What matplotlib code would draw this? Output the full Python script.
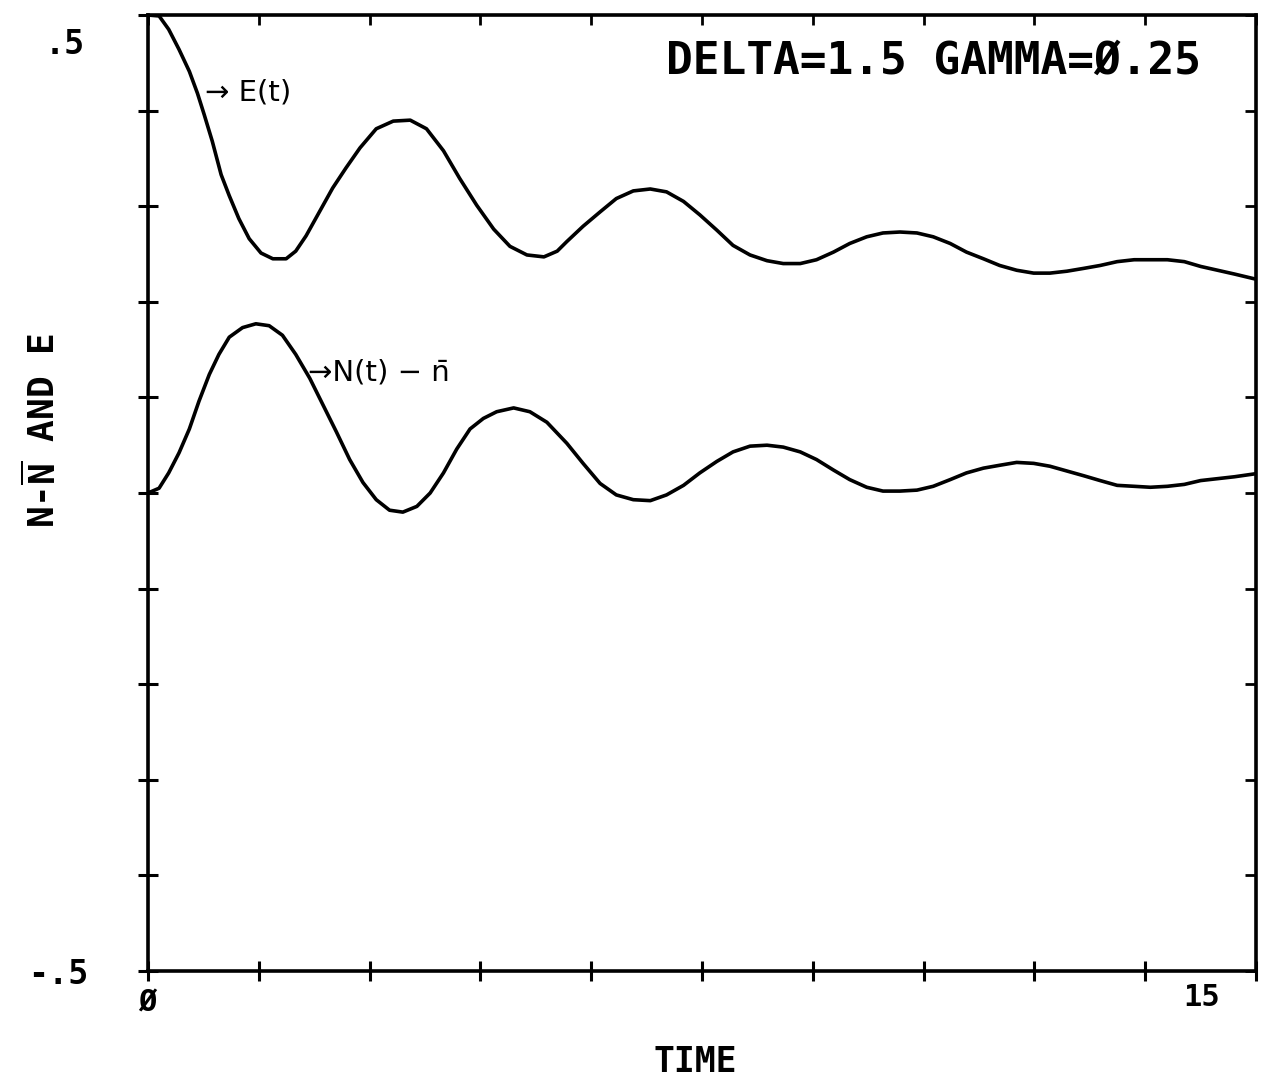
import matplotlib
matplotlib.use("Agg")
import matplotlib.pyplot as plt

# Data
t_E = [0.0, 0.15, 0.28, 0.42, 0.56, 0.67, 0.76, 0.87, 0.99, 1.10, 1.23, 1.37, 1.53,
       1.69, 1.87, 2.00, 2.14, 2.32, 2.50, 2.68, 2.87, 3.09, 3.32, 3.55, 3.77, 4.00,
       4.22, 4.45, 4.68, 4.90, 5.13, 5.36, 5.54, 5.67, 5.89, 6.12, 6.34, 6.57, 6.80,
       7.02, 7.25, 7.47, 7.70, 7.92, 8.15, 8.38, 8.60, 8.83, 9.05, 9.28, 9.50, 9.73,
       9.95, 10.18, 10.41, 10.63, 10.86, 11.08, 11.31, 11.53, 11.76, 11.99, 12.21,
       12.44, 12.67, 12.89, 13.12, 13.35, 13.57, 13.80, 14.03, 14.25, 14.48, 14.71,
       14.98, 15.0]
E_vals = [0.500, 0.499, 0.485, 0.464, 0.441, 0.418, 0.396, 0.368, 0.333, 0.311, 0.287,
          0.266, 0.251, 0.245, 0.245, 0.253, 0.269, 0.294, 0.319, 0.340, 0.361, 0.381,
          0.389, 0.390, 0.381, 0.358, 0.329, 0.301, 0.276, 0.258, 0.249, 0.247, 0.253,
          0.263, 0.279, 0.294, 0.308, 0.316, 0.318, 0.315, 0.305, 0.291, 0.275, 0.259,
          0.249, 0.243, 0.240, 0.240, 0.244, 0.252, 0.261, 0.268, 0.272, 0.273, 0.272,
          0.268, 0.261, 0.252, 0.245, 0.238, 0.233, 0.230, 0.230, 0.232, 0.235, 0.238,
          0.242, 0.244, 0.244, 0.244, 0.242, 0.237, 0.233, 0.229, 0.224, 0.224]

t_N = [0.0, 0.15, 0.28, 0.42, 0.56, 0.69, 0.83, 0.96, 1.10, 1.28, 1.46, 1.64, 1.82,
       2.00, 2.19, 2.37, 2.55, 2.73, 2.91, 3.09, 3.27, 3.45, 3.64, 3.82, 4.00, 4.18,
       4.36, 4.54, 4.72, 4.95, 5.17, 5.40, 5.67, 5.89, 6.12, 6.34, 6.57, 6.80, 7.02,
       7.25, 7.47, 7.70, 7.92, 8.15, 8.38, 8.60, 8.83, 9.05, 9.28, 9.50, 9.73, 9.95,
       10.18, 10.41, 10.63, 10.86, 11.08, 11.31, 11.53, 11.76, 11.99, 12.21, 12.44,
       12.67, 12.89, 13.12, 13.35, 13.57, 13.80, 14.03, 14.25, 14.48, 14.71, 14.98,
       15.0]
N_vals = [0.000, 0.005, 0.021, 0.042, 0.067, 0.096, 0.124, 0.145, 0.163, 0.173, 0.177,
          0.175, 0.165, 0.145, 0.120, 0.092, 0.064, 0.035, 0.011, -0.007, -0.018,
          -0.020, -0.014, 0.000, 0.021, 0.046, 0.067, 0.078, 0.085, 0.089, 0.085,
          0.074, 0.052, 0.031, 0.010, -0.002, -0.007, -0.008, -0.002, 0.008, 0.021,
          0.033, 0.043, 0.049, 0.050, 0.048, 0.043, 0.035, 0.024, 0.014, 0.006, 0.002,
          0.002, 0.003, 0.007, 0.014, 0.021, 0.026, 0.029, 0.032, 0.031, 0.028, 0.023,
          0.018, 0.013, 0.008, 0.007, 0.006, 0.007, 0.009, 0.013, 0.015, 0.017, 0.020,
          0.020]

x_ticks = [0, 1.5, 3, 4.5, 6, 7.5, 9, 10.5, 12, 13.5, 15]
y_ticks = [-0.5, -0.4, -0.3, -0.2, -0.1, 0.0, 0.1, 0.2, 0.3, 0.4, 0.5]
title_text = "DELTA=1.5 GAMMA=\u00d8.25"
ylabel_text = r"N-$\overline{\mathrm{N}}$ AND E"
xlabel_text = "TIME"
label_E = "\u2192 E(t)"
label_N = "\u2192N(t) \u2212 n\u0304"

plt.rcParams["mathtext.fontset"] = "custom"
plt.rcParams["mathtext.rm"] = "DejaVu Sans Mono:bold"

W, H = 1264, 1088
fig = plt.figure(figsize=(W / 100, H / 100), dpi=100)
ax = fig.add_axes([148 / W, 1 - 971 / H, (1256 - 148) / W, (971 - 15) / H])

ax.plot(t_E, E_vals, color="black", lw=2.6, solid_joinstyle="round", solid_capstyle="round")
ax.plot(t_N, N_vals, color="black", lw=2.6, solid_joinstyle="round", solid_capstyle="round")

ax.set_xlim(0, 15)
ax.set_ylim(-0.5, 0.5)
for s in ax.spines.values():
    s.set_linewidth(2.6)

ax.set_xticks(x_ticks)
ax.set_yticks(y_ticks)
ax.set_xticklabels([])
ax.set_yticklabels([])
ax.tick_params(direction="inout", length=14, width=2.2)

sx = ax.secondary_xaxis("top")
sx.set_xticks(x_ticks)
sx.set_xticklabels([])
sx.tick_params(direction="in", length=7, width=2)
sy = ax.secondary_yaxis("right")
sy.set_yticks(y_ticks)
sy.set_yticklabels([])
sy.tick_params(direction="in", length=8, width=2)

mono = dict(family="DejaVu Sans Mono", weight="bold", color="black")

def ftxt(x, y, s, **kw):
    fig.text(x / W, 1 - y / H, s, **kw)

ftxt(65, 45, ".5", ha="center", va="center", fontsize=24, **mono)
ftxt(58, 975, "-.5", ha="center", va="center", fontsize=24, **mono)
ftxt(147, 1003, "\u00d8", ha="center", va="center", fontsize=22, **mono)
ftxt(1202, 997, "15", ha="center", va="center", fontsize=22, **mono)
ftxt(933, 61, title_text, ha="center", va="center", fontsize=32, **mono)
ftxt(695, 1062, xlabel_text, ha="center", va="center", fontsize=25, **mono)
ftxt(43, 430, ylabel_text, ha="center", va="center", rotation=90, fontsize=26, **mono)

ftxt(205, 92, label_E, ha="left", va="center", fontsize=21,
     family="DejaVu Sans", color="black")
ftxt(308, 372, label_N, ha="left", va="center", fontsize=21,
     family="DejaVu Sans", color="black")

fig.savefig("out.png", dpi=100, facecolor="white")
